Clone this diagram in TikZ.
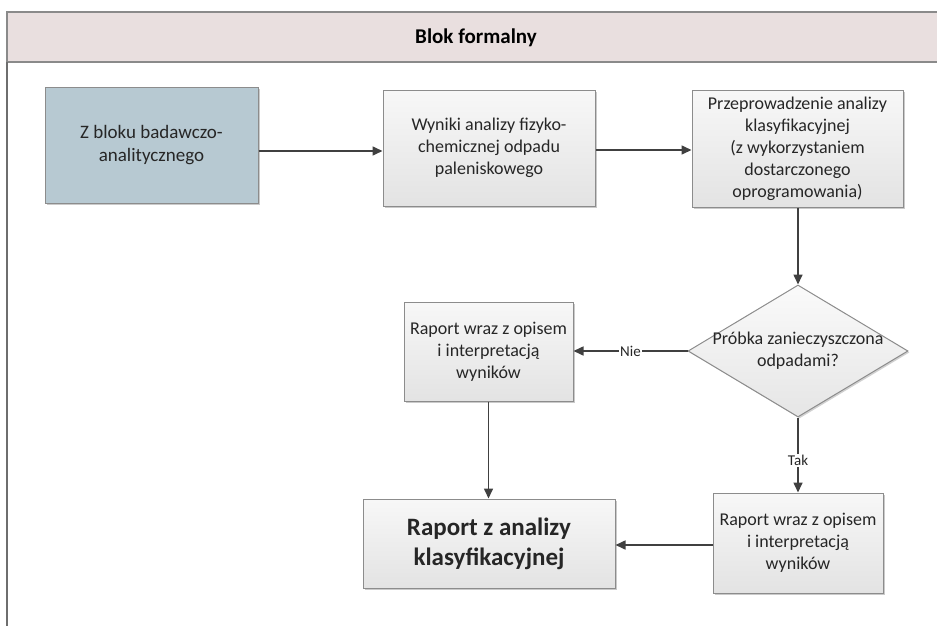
\documentclass[tikz,border=0pt]{standalone}
\usepackage{fontspec}
\setmainfont{Carlito}
\usetikzlibrary{arrows.meta,shapes.geometric,shadows}
\definecolor{hdrfill}{HTML}{E9DFDF}
\definecolor{hdrline}{HTML}{8A8A8A}
\definecolor{boxline}{HTML}{8C8C8C}
\definecolor{bluefill}{HTML}{B7C9D2}
\definecolor{arrcol}{HTML}{404040}
\definecolor{txtcol}{HTML}{262626}
\tikzset{
  procbox/.style={draw=boxline, line width=1pt, top color=white!97!black, bottom color=white!89!black,
    drop shadow={shadow xshift=1.5pt, shadow yshift=-1.5pt, opacity=0.35, fill=black!60},
    inner sep=0pt, align=center, text=txtcol, font=\fontsize{18}{22}\selectfont},
  srcbox/.style={procbox, top color=bluefill, bottom color=bluefill},
  decbox/.style={diamond, draw=boxline, line width=1pt, top color=white!98!black, bottom color=white!90!black,
    inner sep=0pt, drop shadow={shadow xshift=1.5pt, shadow yshift=-1.5pt, opacity=0.3, fill=black!60}},
  arr/.style={draw=arrcol, line width=1.6pt, -{Triangle[length=10pt,width=9pt]}},
  lbl/.style={fill=white, inner sep=1pt, text=txtcol, font=\fontsize{15}{17}\selectfont},
}
\begin{document}
\begin{tikzpicture}[x=1pt,y=-1pt]
\useasboundingbox (0,0) rectangle (937,626);
% header band
\fill[hdrfill] (7,12) rectangle (937,62);
\draw[hdrline, line width=1.2pt] (937,12) -- (7,12) -- (7,62) -- (937,62);
\draw[hdrline!80!black, line width=1.8pt] (7,62) -- (7,626);
\node[font=\bfseries\fontsize{21}{25}\selectfont, text=black] (hdr) at (476,38) {Blok formalny};
% boxes
\node[srcbox, minimum width=213pt, minimum height=116pt, font=\fontsize{19}{23}\selectfont] (b1) at (151.5,145) {Z bloku badawczo-\\analitycznego};
\node[procbox, minimum width=212pt, minimum height=116pt] (b2) at (489,148) {Wyniki analizy fizyko-\\chemicznej odpadu\\paleniskowego};
\node[procbox, minimum width=211pt, minimum height=117pt] (b3) at (797.5,148.5) {Przeprowadzenie analizy\\klasyfikacyjnej\\(z wykorzystaniem\\dostarczonego\\oprogramowania)};
\node[decbox, minimum width=220pt, minimum height=132pt] (d) at (798,351) {};
\node[align=center, text=txtcol, font=\fontsize{18}{22}\selectfont] (dtxt) at (d.center) {Próbka zanieczyszczona\\odpadami?};
\node[procbox, minimum width=169pt, minimum height=99pt] (b4) at (488.5,351.5) {Raport wraz z opisem\\i interpretacją\\wyników};
\node[procbox, minimum width=252pt, minimum height=89pt, font=\bfseries\fontsize{25}{30}\selectfont] (fin) at (489,543.5) {Raport z analizy\\klasyfikacyjnej};
\node[procbox, minimum width=170pt, minimum height=100pt] (b5) at (798,543) {Raport wraz z opisem\\i interpretacją\\wyników};
% connectors
\draw[arr] (b1.east |- 0,151) -- (b2.west |- 0,151);
\draw[arr] (b2.east |- 0,150) -- (b3.west |- 0,150);
\draw[arr] (b3.south -| d.north) -- (d.north);
\draw[arr] (d.west) -- node[lbl, pos=0.5] {Nie} (b4.east |- d.west);
\draw[arr] (d.south) -- node[lbl, pos=0.57] {Tak} (b5.north -| d.south);
\draw[arr] (b4.south) -- (fin.north -| b4.south);
\draw[arr] (b5.west |- 0,545) -- (fin.east |- 0,545);
\end{tikzpicture}
\end{document}
